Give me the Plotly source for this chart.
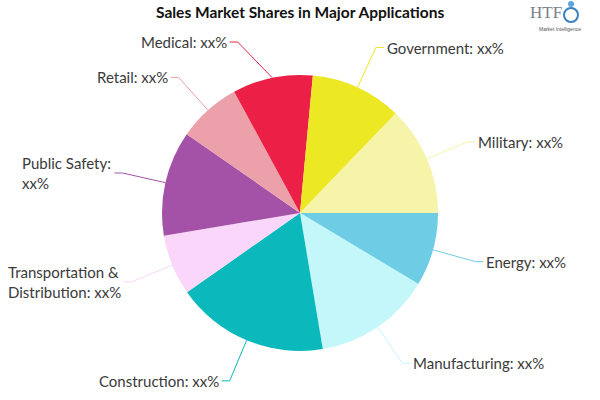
import math
import textwrap
import plotly.graph_objects as go

# ---- data ----
categories = ["Energy", "Manufacturing", "Construction", "Transportation & Distribution",
              "Public Safety", "Retail", "Medical", "Government", "Military"]
shares = [8.6, 13.75, 17.9, 7.1, 12.3, 7.4, 9.4, 10.7, 12.8]
value_text = "xx%"
colors = ["#6ECDE5", "#C3F7F9", "#0BB8BC", "#FAD7FA", "#A352A8",
          "#EBA0AA", "#EC2046", "#EDE824", "#F5F4A8"]
title_text = "Sales Market Shares in Major Applications"

# ---- layout geometry (pixels) ----
W, H = 600, 400
CX, CY, R = 300, 213, 138
ELBOW = 44      # radial length of leader line beyond pie edge
HSEG = 8        # horizontal segment length
CHAR_W = 7.0    # approx label char width for wrapping decisions
TOP_LIMIT = 42  # labels kept below the title band

def px(x):
    return x / W

def py(y):
    return 1 - y / H

fig = go.Figure()
fig.add_trace(go.Pie(
    labels=categories, values=shares, sort=False, direction="clockwise",
    rotation=90, marker=dict(colors=colors, line=dict(width=0)),
    textinfo="none", hoverinfo="skip", showlegend=False,
    domain=dict(x=[px(CX - R), px(CX + R)], y=[py(CY + R), py(CY - R)]),
))

shapes = []
annotations = []
total = sum(shares)
cum = 0.0
RL = R + ELBOW
for cat, val, col in zip(categories, shares, colors):
    mid = (cum + val / 2) / total * 2 * math.pi  # clockwise from 3 o'clock
    cum += val
    c, s = math.cos(mid), math.sin(mid)
    x0, y0 = CX + R * c, CY + R * s
    right = c >= 0
    y1 = max(CY + RL * s, TOP_LIMIT)
    dx = math.sqrt(max(RL ** 2 - (y1 - CY) ** 2, 0))
    x1 = CX + dx if right else CX - dx
    x2 = x1 + (HSEG if right else -HSEG)
    shapes.append(dict(type="path", xref="paper", yref="paper",
                       path=f"M {px(x0)},{py(y0)} L {px(x1)},{py(y1)} L {px(x2)},{py(y1)}",
                       line=dict(color=col, width=1)))
    label = f"{cat}: {value_text}"
    avail = (W - x2 - 4) if right else (x2 - 4)
    if len(label) * CHAR_W > avail:
        label = "<br>".join(textwrap.wrap(label, 17))
    annotations.append(dict(
        x=px(x2 + (1 if right else -1)), y=py(y1), xref="paper", yref="paper",
        text=label, showarrow=False, align="left",
        xanchor="left" if right else "right", yanchor="middle",
        font=dict(family="Lato, 'Noto Sans', sans-serif", size=15, color="#3a3a3a"),
    ))

# title
annotations.append(dict(
    x=px(300), y=py(12), xref="paper", yref="paper", text=f"<b>{title_text}</b>",
    showarrow=False, xanchor="center", yanchor="middle",
    font=dict(family="Lato, sans-serif", size=15.5, color="#111111", weight=900),
))
# logo
annotations.append(dict(
    x=px(546), y=py(13), xref="paper", yref="paper", text="HTF",
    showarrow=False, xanchor="center", yanchor="middle",
    font=dict(family="'Liberation Serif', serif", size=17, color="#7a7f88"),
))
annotations.append(dict(
    x=px(560), y=py(29), xref="paper", yref="paper", text="Market Intelligence",
    showarrow=False, xanchor="center", yanchor="middle",
    font=dict(family="'Liberation Sans', sans-serif", size=5, color="#555555"),
))
shapes.append(dict(type="circle", xref="paper", yref="paper",
                   x0=px(564), x1=px(578), y0=py(22), y1=py(8),
                   line=dict(color="#3a7fc0", width=2), fillcolor="rgba(0,0,0,0)"))
shapes.append(dict(type="circle", xref="paper", yref="paper",
                   x0=px(568), x1=px(574), y0=py(7), y1=py(1),
                   line=dict(width=0), fillcolor="#5aa6dc"))

fig.update_layout(
    width=W, height=H, margin=dict(l=0, r=0, t=0, b=0),
    paper_bgcolor="white", plot_bgcolor="white",
    shapes=shapes, annotations=annotations, showlegend=False,
)
fig.write_html("out.html", config={"displayModeBar": False})
